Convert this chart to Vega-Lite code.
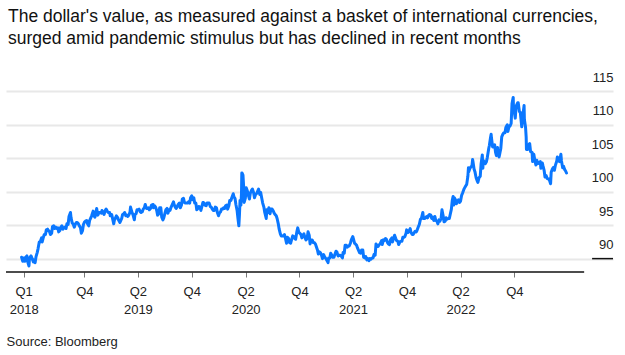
{
  "$schema": "https://vega.github.io/schema/vega-lite/v6.json",
  "width": 607,
  "height": 194,
  "autosize": "none",
  "padding": {"left": 6, "top": 78, "right": 12, "bottom": 83},
  "background": "white",
  "config": {"view": {"stroke": null}, "font": "Liberation Sans"},
  "title": {
    "text": ["The dollar's value, as measured against a basket of international currencies,", "surged amid pandemic stimulus but has declined in recent months"],
    "anchor": "start", "frame": "group", "orient": "top",
    "font": "Liberation Sans", "fontSize": 17.5, "fontWeight": "normal", "color": "#111",
    "lineHeight": 22, "offset": 24, "dx": 2
  },
  "encoding": {
    "x": {
      "field": "d", "type": "temporal",
      "scale": {"type": "utc", "domain": [{"year": 2018, "month": 1, "date": 8, "utc": true}, {"year": 2023, "month": 9, "date": 1, "utc": true}]},
      "axis": {
        "values": [
          {"year": 2018, "month": 3, "date": 9, "utc": true},
          {"year": 2018, "month": 10, "date": 1, "utc": true},
          {"year": 2019, "month": 4, "date": 1, "utc": true},
          {"year": 2019, "month": 10, "date": 1, "utc": true},
          {"year": 2020, "month": 4, "date": 1, "utc": true},
          {"year": 2020, "month": 10, "date": 1, "utc": true},
          {"year": 2021, "month": 4, "date": 1, "utc": true},
          {"year": 2021, "month": 10, "date": 1, "utc": true},
          {"year": 2022, "month": 4, "date": 1, "utc": true},
          {"year": 2022, "month": 10, "date": 1, "utc": true}
        ],
        "labelExpr": "utcmonth(datum.value) == 9 ? 'Q4' : (utcmonth(datum.value) == 3 ? ['Q2', utcFormat(datum.value, '%Y')] : ['Q1', '2018'])",
        "domain": false, "grid": false,
        "ticks": true, "tickSize": 5, "tickColor": "#777777", "tickWidth": 1,
        "labelFont": "Liberation Sans", "labelFontSize": 13, "labelColor": "#222222",
        "labelLineHeight": 18, "labelPadding": 8, "labelBaseline": "top",
        "labelFlush": false, "labelOverlap": false, "labelBound": false,
        "title": "Source: Bloomberg", "titleFont": "Liberation Sans", "titleFontSize": 13,
        "titleFontWeight": "normal", "titleColor": "#222222",
        "titleAnchor": "start", "titleAlign": "left", "titleBaseline": "alphabetic",
        "titleX": 0, "titleY": 73
      }
    },
    "y": {
      "field": "v", "type": "quantitative",
      "scale": {"domain": [88, 117], "zero": false, "nice": false},
      "axis": {
        "orient": "right", "values": [90, 95, 100, 105, 110, 115],
        "domain": false, "ticks": false, "tickSize": 0,
        "grid": true, "gridColor": "#e8e8e8", "gridWidth": 2,
        "labelAlign": "right", "labelPadding": 0, "labelOffset": -10, "labelBaseline": "alphabetic",
        "labelFont": "Liberation Sans", "labelFontSize": 13, "labelColor": "#222222",
        "labelOverlap": false, "labelBound": false,
        "title": null
      }
    }
  },
  "layer": [
    {
      "data": {"values": [
{"d":"2018-03-02","v":90.2},{"d":"2018-03-06","v":89.6},{"d":"2018-03-09","v":90.1},{"d":"2018-03-13","v":89.6},{"d":"2018-03-16","v":90.2},{"d":"2018-03-20","v":90.4},{"d":"2018-03-23","v":89.5},{"d":"2018-03-27","v":88.9},{"d":"2018-03-29","v":90.1},
{"d":"2018-04-03","v":90.4},{"d":"2018-04-06","v":90.1},{"d":"2018-04-11","v":89.5},{"d":"2018-04-13","v":89.8},{"d":"2018-04-17","v":89.4},{"d":"2018-04-20","v":90.3},{"d":"2018-04-24","v":90.9},{"d":"2018-04-27","v":91.5},
{"d":"2018-05-01","v":92.5},{"d":"2018-05-04","v":92.5},{"d":"2018-05-09","v":93.1},{"d":"2018-05-11","v":92.5},{"d":"2018-05-15","v":93.2},{"d":"2018-05-18","v":93.6},{"d":"2018-05-22","v":93.6},{"d":"2018-05-25","v":94.3},{"d":"2018-05-29","v":94.4},
{"d":"2018-06-01","v":94.2},{"d":"2018-06-05","v":94.0},{"d":"2018-06-08","v":93.6},{"d":"2018-06-12","v":93.8},{"d":"2018-06-15","v":94.8},{"d":"2018-06-19","v":94.9},{"d":"2018-06-22","v":94.5},{"d":"2018-06-26","v":94.7},{"d":"2018-06-29","v":94.5},
{"d":"2018-07-03","v":94.6},{"d":"2018-07-06","v":94.0},{"d":"2018-07-10","v":94.2},{"d":"2018-07-13","v":94.7},{"d":"2018-07-17","v":94.9},{"d":"2018-07-20","v":94.4},{"d":"2018-07-24","v":94.6},{"d":"2018-07-27","v":94.7},{"d":"2018-07-31","v":94.5},
{"d":"2018-08-03","v":95.2},{"d":"2018-08-07","v":95.1},{"d":"2018-08-10","v":96.3},{"d":"2018-08-15","v":96.9},{"d":"2018-08-17","v":96.1},{"d":"2018-08-21","v":95.3},{"d":"2018-08-24","v":95.2},{"d":"2018-08-28","v":94.7},{"d":"2018-08-31","v":95.1},
{"d":"2018-09-04","v":95.4},{"d":"2018-09-07","v":95.4},{"d":"2018-09-11","v":95.2},{"d":"2018-09-14","v":94.9},{"d":"2018-09-18","v":94.6},{"d":"2018-09-21","v":93.8},{"d":"2018-09-25","v":94.2},{"d":"2018-09-28","v":95.1},
{"d":"2018-10-02","v":95.5},{"d":"2018-10-05","v":95.6},{"d":"2018-10-09","v":95.7},{"d":"2018-10-12","v":95.2},{"d":"2018-10-16","v":94.9},{"d":"2018-10-19","v":95.7},{"d":"2018-10-23","v":96.1},{"d":"2018-10-26","v":96.4},{"d":"2018-10-31","v":97.1},
{"d":"2018-11-02","v":96.5},{"d":"2018-11-06","v":96.2},{"d":"2018-11-09","v":96.9},{"d":"2018-11-12","v":97.5},{"d":"2018-11-16","v":96.5},{"d":"2018-11-20","v":96.9},{"d":"2018-11-23","v":96.9},{"d":"2018-11-28","v":96.8},{"d":"2018-11-30","v":97.2},
{"d":"2018-12-04","v":96.9},{"d":"2018-12-07","v":96.6},{"d":"2018-12-11","v":97.2},{"d":"2018-12-14","v":97.4},{"d":"2018-12-18","v":97.1},{"d":"2018-12-21","v":96.9},{"d":"2018-12-26","v":96.9},{"d":"2018-12-28","v":96.4},
{"d":"2019-01-02","v":96.6},{"d":"2019-01-04","v":96.2},{"d":"2019-01-09","v":95.2},{"d":"2019-01-11","v":95.7},{"d":"2019-01-15","v":96.1},{"d":"2019-01-18","v":96.4},{"d":"2019-01-23","v":96.1},{"d":"2019-01-25","v":95.8},{"d":"2019-01-30","v":95.4},
{"d":"2019-02-01","v":95.6},{"d":"2019-02-05","v":96.0},{"d":"2019-02-08","v":96.6},{"d":"2019-02-12","v":96.7},{"d":"2019-02-15","v":96.9},{"d":"2019-02-19","v":96.4},{"d":"2019-02-22","v":96.5},{"d":"2019-02-26","v":96.3},
{"d":"2019-03-01","v":96.5},{"d":"2019-03-05","v":96.9},{"d":"2019-03-07","v":97.7},{"d":"2019-03-12","v":96.9},{"d":"2019-03-15","v":96.6},{"d":"2019-03-20","v":95.8},{"d":"2019-03-22","v":96.6},{"d":"2019-03-26","v":96.7},{"d":"2019-03-29","v":97.3},
{"d":"2019-04-02","v":97.3},{"d":"2019-04-05","v":97.4},{"d":"2019-04-09","v":97.0},{"d":"2019-04-12","v":96.9},{"d":"2019-04-16","v":97.0},{"d":"2019-04-19","v":97.4},{"d":"2019-04-23","v":97.6},{"d":"2019-04-26","v":98.1},{"d":"2019-04-30","v":97.5},
{"d":"2019-05-03","v":97.5},{"d":"2019-05-07","v":97.6},{"d":"2019-05-10","v":97.3},{"d":"2019-05-14","v":97.5},{"d":"2019-05-17","v":98.0},{"d":"2019-05-23","v":98.1},{"d":"2019-05-24","v":97.6},{"d":"2019-05-28","v":97.9},{"d":"2019-05-31","v":97.7},
{"d":"2019-06-04","v":97.2},{"d":"2019-06-07","v":96.5},{"d":"2019-06-11","v":96.7},{"d":"2019-06-14","v":97.6},{"d":"2019-06-18","v":97.6},{"d":"2019-06-21","v":96.2},{"d":"2019-06-25","v":95.8},{"d":"2019-06-28","v":96.1},
{"d":"2019-07-02","v":96.8},{"d":"2019-07-05","v":97.3},{"d":"2019-07-09","v":97.5},{"d":"2019-07-12","v":96.8},{"d":"2019-07-16","v":97.3},{"d":"2019-07-19","v":97.2},{"d":"2019-07-23","v":97.7},{"d":"2019-07-26","v":98.0},{"d":"2019-07-31","v":98.5},
{"d":"2019-08-02","v":98.1},{"d":"2019-08-06","v":97.7},{"d":"2019-08-09","v":97.5},{"d":"2019-08-13","v":97.8},{"d":"2019-08-16","v":98.1},{"d":"2019-08-20","v":98.3},{"d":"2019-08-23","v":97.6},{"d":"2019-08-27","v":98.0},{"d":"2019-08-30","v":98.9},
{"d":"2019-09-03","v":99.0},{"d":"2019-09-06","v":98.4},{"d":"2019-09-10","v":98.3},{"d":"2019-09-13","v":98.3},{"d":"2019-09-17","v":98.3},{"d":"2019-09-20","v":98.5},{"d":"2019-09-24","v":98.3},{"d":"2019-09-27","v":99.1},
{"d":"2019-10-01","v":99.4},{"d":"2019-10-04","v":98.8},{"d":"2019-10-08","v":99.1},{"d":"2019-10-11","v":98.3},{"d":"2019-10-15","v":98.3},{"d":"2019-10-18","v":97.3},{"d":"2019-10-22","v":97.5},{"d":"2019-10-25","v":97.8},{"d":"2019-10-29","v":97.7},
{"d":"2019-11-01","v":97.2},{"d":"2019-11-05","v":97.9},{"d":"2019-11-08","v":98.4},{"d":"2019-11-12","v":98.3},{"d":"2019-11-15","v":98.0},{"d":"2019-11-19","v":97.9},{"d":"2019-11-22","v":98.3},{"d":"2019-11-26","v":98.3},{"d":"2019-11-29","v":98.3},
{"d":"2019-12-03","v":97.8},{"d":"2019-12-06","v":97.7},{"d":"2019-12-10","v":97.4},{"d":"2019-12-13","v":97.2},{"d":"2019-12-17","v":97.2},{"d":"2019-12-20","v":97.7},{"d":"2019-12-24","v":97.6},{"d":"2019-12-27","v":96.9},{"d":"2019-12-31","v":96.4},
{"d":"2020-01-03","v":96.8},{"d":"2020-01-07","v":97.0},{"d":"2020-01-10","v":97.4},{"d":"2020-01-14","v":97.4},{"d":"2020-01-17","v":97.6},{"d":"2020-01-21","v":97.5},{"d":"2020-01-24","v":97.9},{"d":"2020-01-28","v":98.0},{"d":"2020-01-31","v":97.4},
{"d":"2020-02-04","v":97.9},{"d":"2020-02-07","v":98.7},{"d":"2020-02-11","v":98.7},{"d":"2020-02-14","v":99.1},{"d":"2020-02-19","v":99.7},{"d":"2020-02-21","v":99.3},{"d":"2020-02-25","v":99.0},{"d":"2020-02-28","v":98.1},
{"d":"2020-03-03","v":97.2},{"d":"2020-03-06","v":96.0},{"d":"2020-03-09","v":94.9},{"d":"2020-03-11","v":96.5},{"d":"2020-03-13","v":98.7},{"d":"2020-03-16","v":98.0},{"d":"2020-03-18","v":99.8},{"d":"2020-03-19","v":102.8},{"d":"2020-03-20","v":102.8},{"d":"2020-03-23","v":102.5},{"d":"2020-03-25","v":101.0},{"d":"2020-03-27","v":98.4},{"d":"2020-03-31","v":99.0},
{"d":"2020-04-03","v":100.6},{"d":"2020-04-07","v":100.1},{"d":"2020-04-10","v":99.5},{"d":"2020-04-14","v":98.9},{"d":"2020-04-17","v":99.8},{"d":"2020-04-21","v":100.2},{"d":"2020-04-24","v":100.4},{"d":"2020-04-28","v":99.9},
{"d":"2020-05-01","v":99.1},{"d":"2020-05-05","v":99.6},{"d":"2020-05-08","v":99.7},{"d":"2020-05-12","v":100.1},{"d":"2020-05-15","v":100.4},{"d":"2020-05-19","v":99.6},{"d":"2020-05-22","v":99.9},{"d":"2020-05-26","v":99.0},{"d":"2020-05-29","v":98.3},
{"d":"2020-06-02","v":97.7},{"d":"2020-06-05","v":96.9},{"d":"2020-06-10","v":96.0},{"d":"2020-06-12","v":97.3},{"d":"2020-06-16","v":96.9},{"d":"2020-06-19","v":97.6},{"d":"2020-06-23","v":96.7},{"d":"2020-06-26","v":97.4},{"d":"2020-06-30","v":97.4},
{"d":"2020-07-03","v":97.2},{"d":"2020-07-07","v":96.8},{"d":"2020-07-10","v":96.6},{"d":"2020-07-14","v":96.4},{"d":"2020-07-17","v":96.0},{"d":"2020-07-21","v":95.2},{"d":"2020-07-24","v":94.4},{"d":"2020-07-28","v":93.7},{"d":"2020-07-31","v":93.4},
{"d":"2020-08-04","v":93.4},{"d":"2020-08-07","v":93.4},{"d":"2020-08-11","v":93.6},{"d":"2020-08-14","v":93.1},{"d":"2020-08-18","v":92.3},{"d":"2020-08-21","v":93.2},{"d":"2020-08-25","v":93.0},{"d":"2020-08-28","v":92.4},
{"d":"2020-09-01","v":92.3},{"d":"2020-09-04","v":92.8},{"d":"2020-09-08","v":93.4},{"d":"2020-09-11","v":93.3},{"d":"2020-09-15","v":93.0},{"d":"2020-09-18","v":92.9},{"d":"2020-09-22","v":94.0},{"d":"2020-09-25","v":94.6},{"d":"2020-09-29","v":93.9},
{"d":"2020-10-02","v":93.8},{"d":"2020-10-06","v":93.6},{"d":"2020-10-09","v":93.1},{"d":"2020-10-13","v":93.5},{"d":"2020-10-16","v":93.7},{"d":"2020-10-20","v":93.1},{"d":"2020-10-23","v":92.8},{"d":"2020-10-27","v":93.0},{"d":"2020-10-30","v":94.0},
{"d":"2020-11-03","v":93.5},{"d":"2020-11-06","v":92.2},{"d":"2020-11-10","v":92.8},{"d":"2020-11-13","v":92.8},{"d":"2020-11-17","v":92.4},{"d":"2020-11-20","v":92.4},{"d":"2020-11-24","v":92.2},{"d":"2020-11-27","v":91.8},
{"d":"2020-12-01","v":91.3},{"d":"2020-12-04","v":90.7},{"d":"2020-12-08","v":91.0},{"d":"2020-12-11","v":90.9},{"d":"2020-12-15","v":90.5},{"d":"2020-12-18","v":90.0},{"d":"2020-12-22","v":90.6},{"d":"2020-12-25","v":90.3},{"d":"2020-12-31","v":89.9},
{"d":"2021-01-06","v":89.4},{"d":"2021-01-08","v":90.1},{"d":"2021-01-12","v":90.1},{"d":"2021-01-15","v":90.8},{"d":"2021-01-19","v":90.5},{"d":"2021-01-22","v":90.2},{"d":"2021-01-26","v":90.2},{"d":"2021-01-29","v":90.6},
{"d":"2021-02-02","v":91.1},{"d":"2021-02-05","v":91.0},{"d":"2021-02-09","v":90.4},{"d":"2021-02-12","v":90.5},{"d":"2021-02-16","v":90.5},{"d":"2021-02-19","v":90.4},{"d":"2021-02-24","v":90.1},{"d":"2021-02-26","v":90.9},
{"d":"2021-03-02","v":90.8},{"d":"2021-03-05","v":92.0},{"d":"2021-03-09","v":92.0},{"d":"2021-03-12","v":91.7},{"d":"2021-03-16","v":91.9},{"d":"2021-03-19","v":91.9},{"d":"2021-03-23","v":92.3},{"d":"2021-03-26","v":92.8},{"d":"2021-03-31","v":93.3},
{"d":"2021-04-02","v":93.0},{"d":"2021-04-06","v":92.3},{"d":"2021-04-09","v":92.2},{"d":"2021-04-13","v":92.0},{"d":"2021-04-16","v":91.6},{"d":"2021-04-20","v":91.2},{"d":"2021-04-23","v":90.9},{"d":"2021-04-27","v":90.8},{"d":"2021-04-30","v":91.3},
{"d":"2021-05-04","v":91.3},{"d":"2021-05-07","v":90.2},{"d":"2021-05-11","v":90.1},{"d":"2021-05-14","v":90.3},{"d":"2021-05-18","v":89.8},{"d":"2021-05-21","v":90.0},{"d":"2021-05-25","v":89.7},{"d":"2021-05-28","v":90.0},
{"d":"2021-06-01","v":89.9},{"d":"2021-06-04","v":90.1},{"d":"2021-06-08","v":90.1},{"d":"2021-06-11","v":90.6},{"d":"2021-06-15","v":90.5},{"d":"2021-06-18","v":92.2},{"d":"2021-06-22","v":91.8},{"d":"2021-06-25","v":91.8},{"d":"2021-06-29","v":92.1},
{"d":"2021-07-02","v":92.2},{"d":"2021-07-07","v":92.7},{"d":"2021-07-09","v":92.1},{"d":"2021-07-13","v":92.8},{"d":"2021-07-16","v":92.7},{"d":"2021-07-20","v":93.0},{"d":"2021-07-23","v":92.9},{"d":"2021-07-27","v":92.4},{"d":"2021-07-30","v":92.2},
{"d":"2021-08-03","v":92.1},{"d":"2021-08-06","v":92.8},{"d":"2021-08-11","v":93.1},{"d":"2021-08-13","v":92.5},{"d":"2021-08-17","v":93.1},{"d":"2021-08-20","v":93.5},{"d":"2021-08-24","v":93.0},{"d":"2021-08-27","v":92.7},{"d":"2021-08-31","v":92.6},
{"d":"2021-09-03","v":92.1},{"d":"2021-09-07","v":92.5},{"d":"2021-09-10","v":92.6},{"d":"2021-09-14","v":92.6},{"d":"2021-09-17","v":93.2},{"d":"2021-09-21","v":93.2},{"d":"2021-09-24","v":93.3},{"d":"2021-09-28","v":93.8},{"d":"2021-09-30","v":94.3},
{"d":"2021-10-05","v":93.9},{"d":"2021-10-08","v":94.1},{"d":"2021-10-12","v":94.5},{"d":"2021-10-15","v":93.9},{"d":"2021-10-19","v":93.6},{"d":"2021-10-22","v":93.6},{"d":"2021-10-26","v":93.9},{"d":"2021-10-29","v":94.1},
{"d":"2021-11-02","v":94.0},{"d":"2021-11-05","v":94.3},{"d":"2021-11-10","v":94.9},{"d":"2021-11-12","v":95.1},{"d":"2021-11-16","v":95.9},{"d":"2021-11-19","v":96.0},{"d":"2021-11-24","v":96.9},{"d":"2021-11-26","v":96.0},{"d":"2021-11-30","v":96.0},
{"d":"2021-12-03","v":96.1},{"d":"2021-12-07","v":96.3},{"d":"2021-12-10","v":96.1},{"d":"2021-12-14","v":96.5},{"d":"2021-12-17","v":96.6},{"d":"2021-12-21","v":96.5},{"d":"2021-12-24","v":96.0},{"d":"2021-12-28","v":96.2},{"d":"2021-12-31","v":95.7},
{"d":"2022-01-04","v":96.3},{"d":"2022-01-07","v":95.7},{"d":"2022-01-11","v":95.6},{"d":"2022-01-14","v":95.2},{"d":"2022-01-18","v":95.8},{"d":"2022-01-21","v":95.6},{"d":"2022-01-25","v":96.0},{"d":"2022-01-28","v":97.3},
{"d":"2022-02-01","v":96.4},{"d":"2022-02-04","v":95.5},{"d":"2022-02-08","v":95.6},{"d":"2022-02-11","v":96.1},{"d":"2022-02-15","v":95.9},{"d":"2022-02-18","v":96.0},{"d":"2022-02-22","v":96.0},{"d":"2022-02-25","v":96.6},
{"d":"2022-03-01","v":97.4},{"d":"2022-03-04","v":98.7},{"d":"2022-03-07","v":99.3},{"d":"2022-03-09","v":98.0},{"d":"2022-03-11","v":99.1},{"d":"2022-03-15","v":98.8},{"d":"2022-03-18","v":98.2},{"d":"2022-03-22","v":98.5},{"d":"2022-03-25","v":98.8},{"d":"2022-03-29","v":98.4},
{"d":"2022-04-01","v":98.6},{"d":"2022-04-05","v":99.5},{"d":"2022-04-08","v":99.8},{"d":"2022-04-12","v":100.3},{"d":"2022-04-14","v":100.5},{"d":"2022-04-19","v":100.9},{"d":"2022-04-22","v":101.1},{"d":"2022-04-26","v":102.3},{"d":"2022-04-28","v":103.6},{"d":"2022-04-29","v":103.0},
{"d":"2022-05-03","v":103.5},{"d":"2022-05-06","v":103.7},{"d":"2022-05-10","v":103.9},{"d":"2022-05-12","v":104.8},{"d":"2022-05-13","v":104.6},{"d":"2022-05-17","v":103.4},{"d":"2022-05-20","v":103.0},{"d":"2022-05-24","v":102.1},{"d":"2022-05-27","v":101.7},{"d":"2022-05-30","v":101.4},
{"d":"2022-06-03","v":102.1},{"d":"2022-06-07","v":102.3},{"d":"2022-06-10","v":104.2},{"d":"2022-06-14","v":105.5},{"d":"2022-06-16","v":103.5},{"d":"2022-06-17","v":104.7},{"d":"2022-06-21","v":104.4},{"d":"2022-06-24","v":104.2},{"d":"2022-06-28","v":104.5},
{"d":"2022-07-01","v":105.1},{"d":"2022-07-06","v":106.5},{"d":"2022-07-08","v":106.9},{"d":"2022-07-12","v":108.1},{"d":"2022-07-14","v":108.6},{"d":"2022-07-15","v":108.1},{"d":"2022-07-19","v":106.7},{"d":"2022-07-22","v":106.7},{"d":"2022-07-26","v":107.0},{"d":"2022-07-29","v":105.9},
{"d":"2022-08-01","v":105.4},{"d":"2022-08-05","v":106.6},{"d":"2022-08-10","v":105.2},{"d":"2022-08-12","v":105.6},{"d":"2022-08-16","v":106.5},{"d":"2022-08-19","v":108.2},{"d":"2022-08-23","v":108.6},{"d":"2022-08-26","v":108.8},{"d":"2022-08-30","v":108.8},
{"d":"2022-09-02","v":109.6},{"d":"2022-09-07","v":110.0},{"d":"2022-09-09","v":109.0},{"d":"2022-09-13","v":109.8},{"d":"2022-09-16","v":109.8},{"d":"2022-09-20","v":110.2},{"d":"2022-09-23","v":113.2},{"d":"2022-09-27","v":114.1},{"d":"2022-09-28","v":112.6},{"d":"2022-09-30","v":112.1},
{"d":"2022-10-04","v":111.0},{"d":"2022-10-07","v":112.8},{"d":"2022-10-12","v":113.3},{"d":"2022-10-14","v":113.3},{"d":"2022-10-18","v":112.0},{"d":"2022-10-21","v":111.9},{"d":"2022-10-26","v":109.7},{"d":"2022-10-28","v":110.8},
{"d":"2022-11-03","v":112.9},{"d":"2022-11-04","v":110.8},{"d":"2022-11-08","v":109.6},{"d":"2022-11-10","v":108.2},{"d":"2022-11-11","v":106.3},{"d":"2022-11-15","v":106.3},{"d":"2022-11-18","v":107.0},{"d":"2022-11-22","v":107.2},{"d":"2022-11-25","v":106.0},{"d":"2022-11-30","v":105.9},
{"d":"2022-12-02","v":104.5},{"d":"2022-12-06","v":105.6},{"d":"2022-12-09","v":104.8},{"d":"2022-12-13","v":104.0},{"d":"2022-12-16","v":104.7},{"d":"2022-12-20","v":104.2},{"d":"2022-12-23","v":104.3},{"d":"2022-12-28","v":104.5},{"d":"2022-12-30","v":103.5},
{"d":"2023-01-04","v":104.3},{"d":"2023-01-06","v":103.9},{"d":"2023-01-10","v":103.2},{"d":"2023-01-13","v":102.2},{"d":"2023-01-17","v":102.4},{"d":"2023-01-20","v":102.0},{"d":"2023-01-24","v":101.9},{"d":"2023-01-27","v":101.9},
{"d":"2023-02-01","v":101.2},{"d":"2023-02-03","v":102.9},{"d":"2023-02-07","v":103.4},{"d":"2023-02-10","v":103.6},{"d":"2023-02-14","v":103.2},{"d":"2023-02-17","v":103.9},{"d":"2023-02-22","v":104.6},{"d":"2023-02-24","v":105.2},{"d":"2023-02-28","v":104.9},
{"d":"2023-03-03","v":104.5},{"d":"2023-03-08","v":105.6},{"d":"2023-03-10","v":104.6},{"d":"2023-03-14","v":103.6},{"d":"2023-03-17","v":103.8},{"d":"2023-03-21","v":103.3},{"d":"2023-03-24","v":103.1},{"d":"2023-03-27","v":102.8}
      ]},
      "mark": {"type": "line", "color": "#0a77ff", "strokeWidth": 3, "strokeJoin": "round", "strokeCap": "round"}
    },
    {
      "data": {"values": [{"d": "2018-01-08", "d2": "2023-05-26", "v": 88}, {"d": "2023-06-22", "d2": "2023-09-01", "v": 90}]},
      "mark": {"type": "rule", "color": "#111111", "strokeWidth": 1.5},
      "encoding": {
        "x2": {"field": "d2"}
      }
    }
  ]
}
